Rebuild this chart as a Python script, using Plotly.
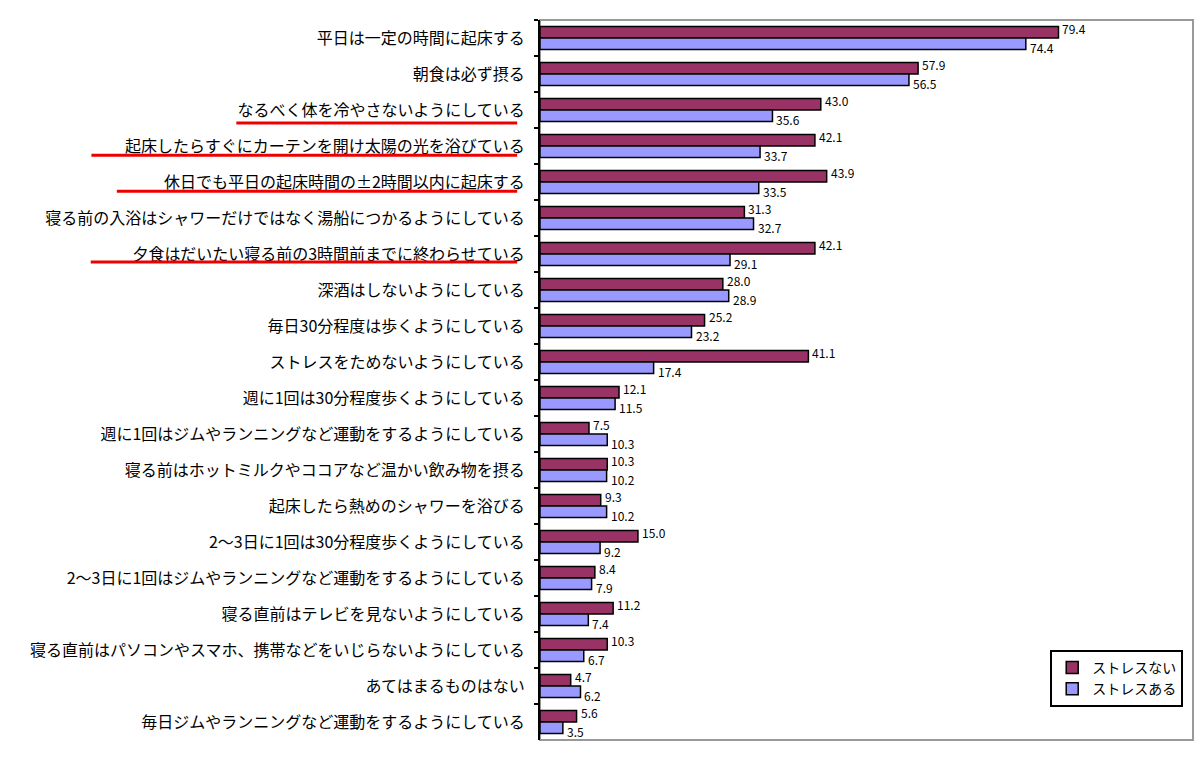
import plotly.graph_objects as go

categories = [
    "平日は一定の時間に起床する",
    "朝食は必ず摂る",
    "なるべく体を冷やさないようにしている",
    "起床したらすぐにカーテンを開け太陽の光を浴びている",
    "休日でも平日の起床時間の±2時間以内に起床する",
    "寝る前の入浴はシャワーだけではなく湯船につかるようにしている",
    "夕食はだいたい寝る前の3時間前までに終わらせている",
    "深酒はしないようにしている",
    "毎日30分程度は歩くようにしている",
    "ストレスをためないようにしている",
    "週に1回は30分程度歩くようにしている",
    "週に1回はジムやランニングなど運動をするようにしている",
    "寝る前はホットミルクやココアなど温かい飲み物を摂る",
    "起床したら熱めのシャワーを浴びる",
    "2～3日に1回は30分程度歩くようにしている",
    "2～3日に1回はジムやランニングなど運動をするようにしている",
    "寝る直前はテレビを見ないようにしている",
    "寝る直前はパソコンやスマホ、携帯などをいじらないようにしている",
    "あてはまるものはない",
    "毎日ジムやランニングなど運動をするようにしている",
]
stress_none = [79.4, 57.9, 43.0, 42.1, 43.9, 31.3, 42.1, 28.0, 25.2, 41.1,
               12.1, 7.5, 10.3, 9.3, 15.0, 8.4, 11.2, 10.3, 4.7, 5.6]
stress_some = [74.4, 56.5, 35.6, 33.7, 33.5, 32.7, 29.1, 28.9, 23.2, 17.4,
               11.5, 10.3, 10.2, 10.2, 9.2, 7.9, 7.4, 6.7, 6.2, 3.5]
series_names = ["ストレスない", "ストレスある"]

# highlighted labels (index of category) -> underline start in paper x, y offset
underlined = {2: (-0.465, 0.36), 3: (-0.687, 0.26), 4: (-0.648, 0.26), 6: (-0.688, 0.22)}

FONT = "Noto Sans CJK JP"
BARGAP = 0.36
half = (1 - BARGAP) / 4  # offset of each bar's centre from the category centre

fig = go.Figure()
fig.add_trace(go.Bar(
    y=categories, x=stress_none, name=series_names[0], orientation="h",
    marker=dict(color="#993366", line=dict(color="black", width=1.5)),
))
fig.add_trace(go.Bar(
    y=categories, x=stress_some, name=series_names[1], orientation="h",
    marker=dict(color="#9999FF", line=dict(color="black", width=1.5)),
))

annotations = []
for i, (a, b) in enumerate(zip(stress_none, stress_some)):
    annotations.append(dict(x=a, y=i - half, xref="x", yref="y", text=f"{a:.1f}",
                            showarrow=False, xanchor="left", yanchor="middle",
                            xshift=2, yshift=4,
                            font=dict(size=12, color="black", family=FONT)))
    annotations.append(dict(x=b, y=i + half, xref="x", yref="y", text=f"{b:.1f}",
                            showarrow=False, xanchor="left", yanchor="middle",
                            xshift=2, yshift=-4,
                            font=dict(size=12, color="black", family=FONT)))

shapes = [dict(type="rect", xref="paper", yref="paper", x0=0, x1=1, y0=0, y1=1,
               line=dict(color="#999999", width=2), layer="below")]
for idx, (x0, dy) in underlined.items():
    shapes.append(dict(type="line", xref="paper", yref="y", x0=x0, x1=-0.035,
                       y0=idx + dy, y1=idx + dy, line=dict(color="#ee0000", width=3)))

fig.update_layout(
    width=1200, height=758,
    margin=dict(l=540, r=7, t=20, b=18),
    paper_bgcolor="white", plot_bgcolor="white",
    barmode="group", bargap=BARGAP, bargroupgap=0.0,
    font=dict(family=FONT, color="black"),
    xaxis=dict(range=[0, 100], showticklabels=False, showgrid=False, zeroline=False,
               ticks=""),
    yaxis=dict(autorange="reversed", showline=True, linecolor="black", linewidth=2,
               ticks="outside", ticklen=4, tickwidth=1.5, tickcolor="black",
               tickson="boundaries", tickfont=dict(size=16, color="black", family=FONT),
               ticklabelstandoff=10, showgrid=False),
    legend=dict(x=0.985, y=0.046, xanchor="right", yanchor="bottom",
                bgcolor="white", bordercolor="black", borderwidth=2,
                font=dict(size=14, family=FONT), tracegroupgap=0, itemwidth=30),
    annotations=annotations,
    shapes=shapes,
    showlegend=True,
)

fig.write_html("out.html")
